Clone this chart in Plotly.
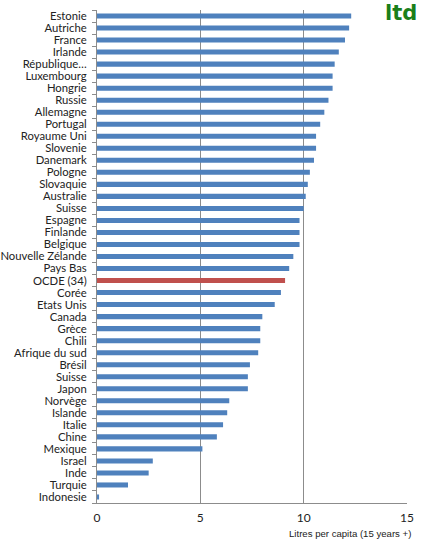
import plotly.graph_objects as go

countries = ['Estonie', 'Autriche', 'France', 'Irlande', 'République…', 'Luxembourg',
             'Hongrie', 'Russie', 'Allemagne', 'Portugal', 'Royaume Uni', 'Slovenie',
             'Danemark', 'Pologne', 'Slovaquie', 'Australie', 'Suisse', 'Espagne',
             'Finlande', 'Belgique', 'Nouvelle Zélande', 'Pays Bas', 'OCDE (34)',
             'Corée', 'Etats Unis', 'Canada', 'Grèce', 'Chili', 'Afrique du sud',
             'Brésil', 'Suisse ', 'Japon', 'Norvège', 'Islande', 'Italie', 'Chine',
             'Mexique', 'Israel', 'Inde', 'Turquie', 'Indonesie']
litres = [12.3, 12.2, 12.0, 11.7, 11.5, 11.4,
          11.4, 11.2, 11.0, 10.8, 10.6, 10.6,
          10.5, 10.3, 10.2, 10.1, 10.0, 9.8,
          9.8, 9.8, 9.5, 9.3, 9.1,
          8.9, 8.6, 8.0, 7.9, 7.9, 7.8,
          7.4, 7.3, 7.3, 6.4, 6.3, 6.1, 5.8,
          5.1, 2.7, 2.5, 1.5, 0.1]
x_ticks = [0, 5, 10, 15]

blue = '#4F81BD'
red = '#C0504D'
colors = [red if c.startswith('OCDE') else blue for c in countries]

fig = go.Figure(
    data=[go.Bar(x=litres, y=countries, orientation='h',
                 marker_color=colors, marker_line_width=0)]
)

fig.update_layout(
    width=423, height=542,
    margin=dict(l=97, r=16, t=10, b=39),
    plot_bgcolor='white', paper_bgcolor='white',
    bargap=0.58,
    showlegend=False,
    font=dict(family='Lato', size=11, color='#222'),
)
fig.update_xaxes(
    range=[0, 15], tickvals=x_ticks, showgrid=True, gridcolor='#8c8c8c', gridwidth=1,
    zeroline=False, showline=True, linecolor='#8c8c8c', linewidth=1,
    tickfont=dict(family='Lato', size=12), ticks='', automargin=False,
    ticklabelstandoff=4,
)
fig.update_yaxes(
    autorange='reversed', showline=True, linecolor='#8c8c8c', linewidth=1,
    ticks='outside', ticklen=4, tickcolor='#8c8c8c', tickson='boundaries',
    tickmode='array', tickvals=countries, ticktext=[c.strip() for c in countries],
    showgrid=False, tickfont=dict(family='Lato', size=11.3), ticklabelstandoff=7,
    automargin=False,
)

fig.add_annotation(
    text='Litres per capita (15 years +)', xref='paper', yref='paper',
    x=1.02, y=0, yshift=-23, xanchor='right', yanchor='top', showarrow=False,
    font=dict(family='Liberation Sans', size=9.6, color='#222'),
)
fig.add_annotation(
    text='<b>ltd</b>', xref='paper', yref='paper',
    x=1.036, y=1.02, xanchor='right', yanchor='top', showarrow=False,
    bgcolor='white', borderpad=0,
    font=dict(family='DejaVu Sans', size=21, color='#1a7f1a'),
)

fig.write_html('out.html', config={'displayModeBar': False},
               post_script="document.body.style.margin='0';")
